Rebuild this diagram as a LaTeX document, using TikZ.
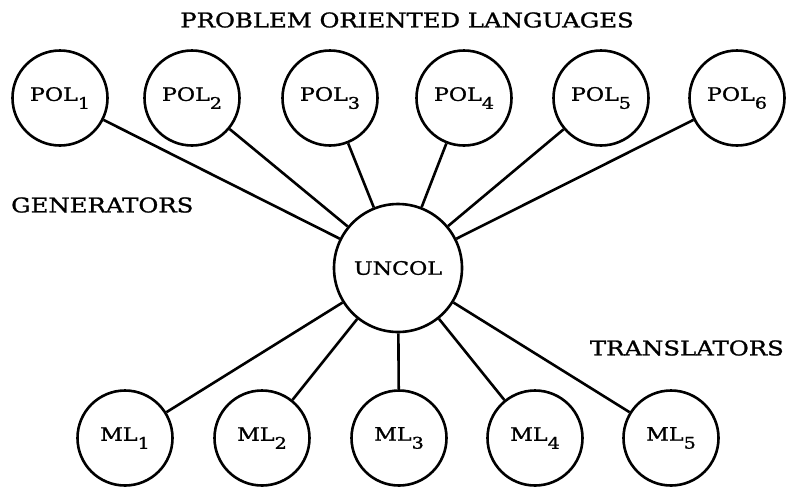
\documentclass[tikz,border=0pt]{standalone}
\usepackage{fontspec}
\setmainfont{DejaVu Serif}[FakeStretch=1.2,FakeBold=1.2]
\newcommand\lsub[1]{\raisebox{-8pt}{\fontsize{16}{16}\selectfont #1}}
\begin{document}
\begin{tikzpicture}[x=1pt,y=-1pt,
  lang/.style={circle, draw, line width=2.6pt, minimum size=95pt, inner sep=0pt,
    font=\fontsize{18.5}{18.5}\selectfont},
  hub/.style={circle, draw, line width=2.6pt, minimum size=128pt, inner sep=0pt,
    font=\fontsize{18.5}{18.5}\selectfont},
  link/.style={line width=2.6pt},
  caption/.style={inner sep=0pt, font=\fontsize{20.3}{20.3}\selectfont}]
\useasboundingbox (0,0) rectangle (786,488);
\node[caption] (title) at (407,20) {PROBLEM ORIENTED LANGUAGES};
\node[caption, anchor=west] (gen) at (11,205) {GENERATORS};
\node[caption, anchor=east] (tra) at (784,348) {TRANSLATORS};
\node[hub] (uncol) at (398,268) {UNCOL};
\node[lang] (pol1) at (60,98) {POL\lsub{1}};
\node[lang] (pol2) at (192,98) {POL\lsub{2}};
\node[lang] (pol3) at (330,98) {POL\lsub{3}};
\node[lang] (pol4) at (464,98) {POL\lsub{4}};
\node[lang] (pol5) at (601,98) {POL\lsub{5}};
\node[lang] (pol6) at (737,98) {POL\lsub{6}};
\node[lang] (ml1) at (125,438) {ML\lsub{1}};
\node[lang] (ml2) at (262,438) {ML\lsub{2}};
\node[lang] (ml3) at (399,438) {ML\lsub{3}};
\node[lang] (ml4) at (535,438) {ML\lsub{4}};
\node[lang] (ml5) at (671,438) {ML\lsub{5}};
\foreach \n in {pol1,pol2,pol3,pol4,pol5,pol6,ml1,ml2,ml3,ml4,ml5}
  \draw[link] (\n) -- (uncol);
\end{tikzpicture}
\end{document}
